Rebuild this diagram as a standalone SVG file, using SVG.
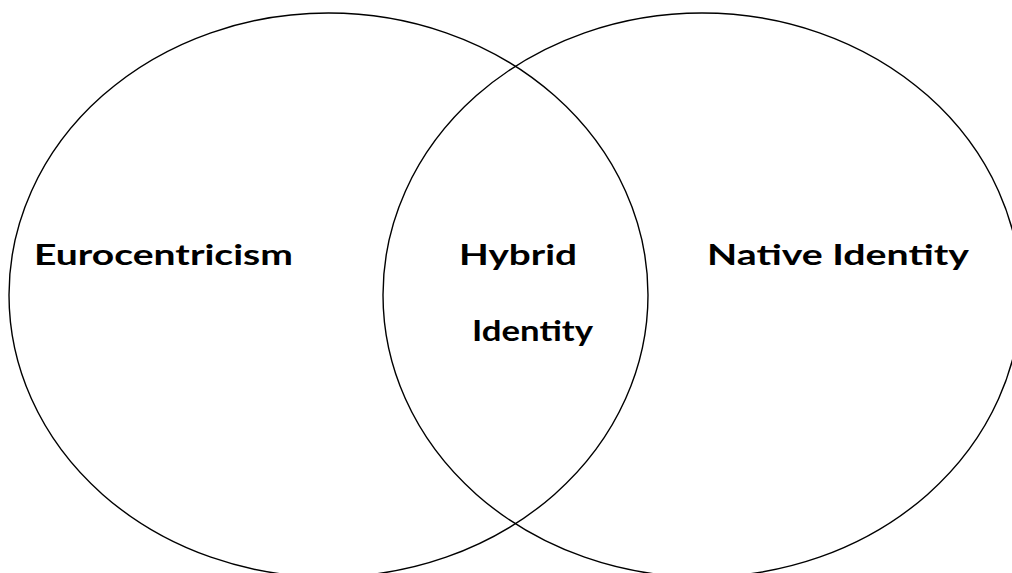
<svg xmlns="http://www.w3.org/2000/svg" width="1012" height="573" viewBox="0 0 1012 573">
<style>
.c{fill:none;stroke:#000;stroke-width:1.4}
.t{font-family:Lato,"Open Sans","Liberation Sans",sans-serif;font-weight:bold;font-size:28px;fill:#000}
</style>
<rect width="1012" height="573" fill="#fff"/>
<g id="left-circle"><ellipse class="c" cx="328.5" cy="295" rx="319.5" ry="282"/></g>
<g id="right-circle"><ellipse class="c" cx="702" cy="295" rx="319" ry="282"/></g>
<g id="label-eurocentricism"><text class="t" x="34" y="265" textLength="259" lengthAdjust="spacingAndGlyphs">Eurocentricism</text></g>
<g id="label-hybrid"><text class="t" x="459" y="265" textLength="118" lengthAdjust="spacingAndGlyphs">Hybrid</text><text class="t" x="472" y="341" textLength="121" lengthAdjust="spacingAndGlyphs">Identity</text></g>
<g id="label-native"><text class="t" x="707" y="265" textLength="262" lengthAdjust="spacingAndGlyphs">Native Identity</text></g>
</svg>
